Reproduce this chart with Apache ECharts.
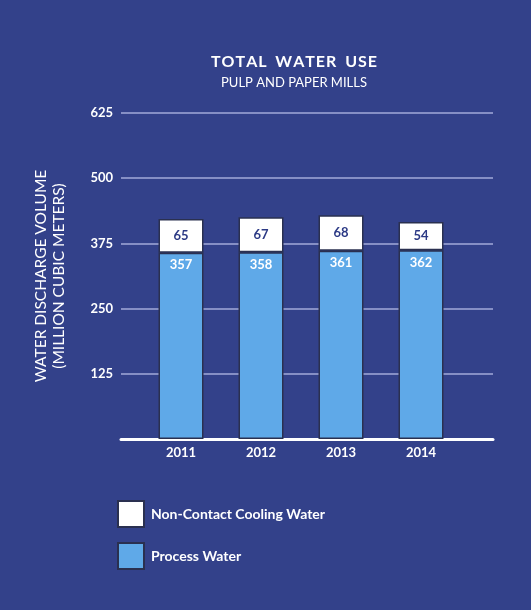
<!DOCTYPE html>
<html><head><meta charset="utf-8">
<script src="https://cdn.jsdelivr.net/npm/echarts@6/dist/echarts.min.js"></script>
<style>html,body{margin:0;padding:0;background:#33418a}#c{width:531px;height:610px}</style>
</head><body><div id="c"></div>
<script>
const years = ['2011','2012','2013','2014'];
const processWater = [357,358,361,362];
const coolingWater = [65,67,68,54];
const yTicks = [0,125,250,375,500,625];
const FONT = 'Lato';

const chart = echarts.init(document.getElementById('c'));
chart.setOption({
  backgroundColor:'#33418a',
  textStyle:{fontFamily:FONT},
  graphic:[
    {type:'text',style:{x:294,y:62,text:'T O T A L   W A T E R   U S E'.replace(/ (?! )/g,'\u200A').replace(/   /g,' '),fill:'#fff',font:'bold 16px '+FONT,textAlign:'center',textVerticalAlign:'middle'}},
    {type:'text',style:{x:294,y:83,text:'PULP AND PAPER MILLS',fill:'#fff',font:'13px '+FONT,textAlign:'center',textVerticalAlign:'middle'}}
  ],
  legend:{orient:'vertical',left:117,top:500,padding:0,itemWidth:26,itemHeight:26,itemGap:14,icon:'rect',
    data:['Non-Contact Cooling Water','Process Water'],
    textStyle:{color:'#fff',fontSize:14,fontWeight:'bold',fontFamily:FONT,padding:[0,0,0,2]}},
  grid:[
    {left:121,right:38,top:113,bottom:171},
    {left:141,right:70,top:113,bottom:171}
  ],
  xAxis:[
    {type:'value',gridIndex:0,min:0,max:1,axisLine:{show:true,lineStyle:{color:'#fff',width:3}},axisTick:{show:false},axisLabel:{show:false},splitLine:{show:false}},
    {type:'category',gridIndex:1,data:years,axisLine:{show:false},axisTick:{show:false},
      axisLabel:{color:'#fff',fontWeight:'bold',fontSize:13,margin:7,fontFamily:FONT}}
  ],
  yAxis:[
    {type:'value',gridIndex:0,min:0,max:625,interval:125,
      axisLine:{show:false},axisTick:{show:false},
      axisLabel:{color:'#fff',fontWeight:'bold',fontSize:13,margin:8,fontFamily:FONT,formatter:v=>v===0?'':v},
      splitLine:{lineStyle:{color:'#a3aad8',width:1.5}},
      name:'WATER DISCHARGE VOLUME\n(MILLION CUBIC METERS)',nameLocation:'middle',nameGap:53,nameRotate:90,
      nameTextStyle:{color:'#fff',fontSize:15.5,lineHeight:18,fontFamily:FONT}},
    {type:'value',gridIndex:1,min:0,max:625,interval:125,show:false}
  ],
  series:[
    {name:'Process Water',type:'bar',stack:'w',xAxisIndex:1,yAxisIndex:1,barWidth:45,data:processWater,
      itemStyle:{color:'#5fa9e8',borderColor:'#2a3050',borderWidth:1.5},
      label:{show:true,position:'insideTop',distance:6,color:'#fff',fontWeight:'bold',fontSize:13,fontFamily:FONT}},
    {name:'Non-Contact Cooling Water',type:'bar',stack:'w',xAxisIndex:1,yAxisIndex:1,barWidth:45,data:coolingWater,
      itemStyle:{color:'#ffffff',borderColor:'#2a3050',borderWidth:1.5},
      label:{show:true,position:'inside',color:'#2c3a85',fontWeight:'bold',fontSize:13,fontFamily:FONT}}
  ]
});
</script></body></html>
